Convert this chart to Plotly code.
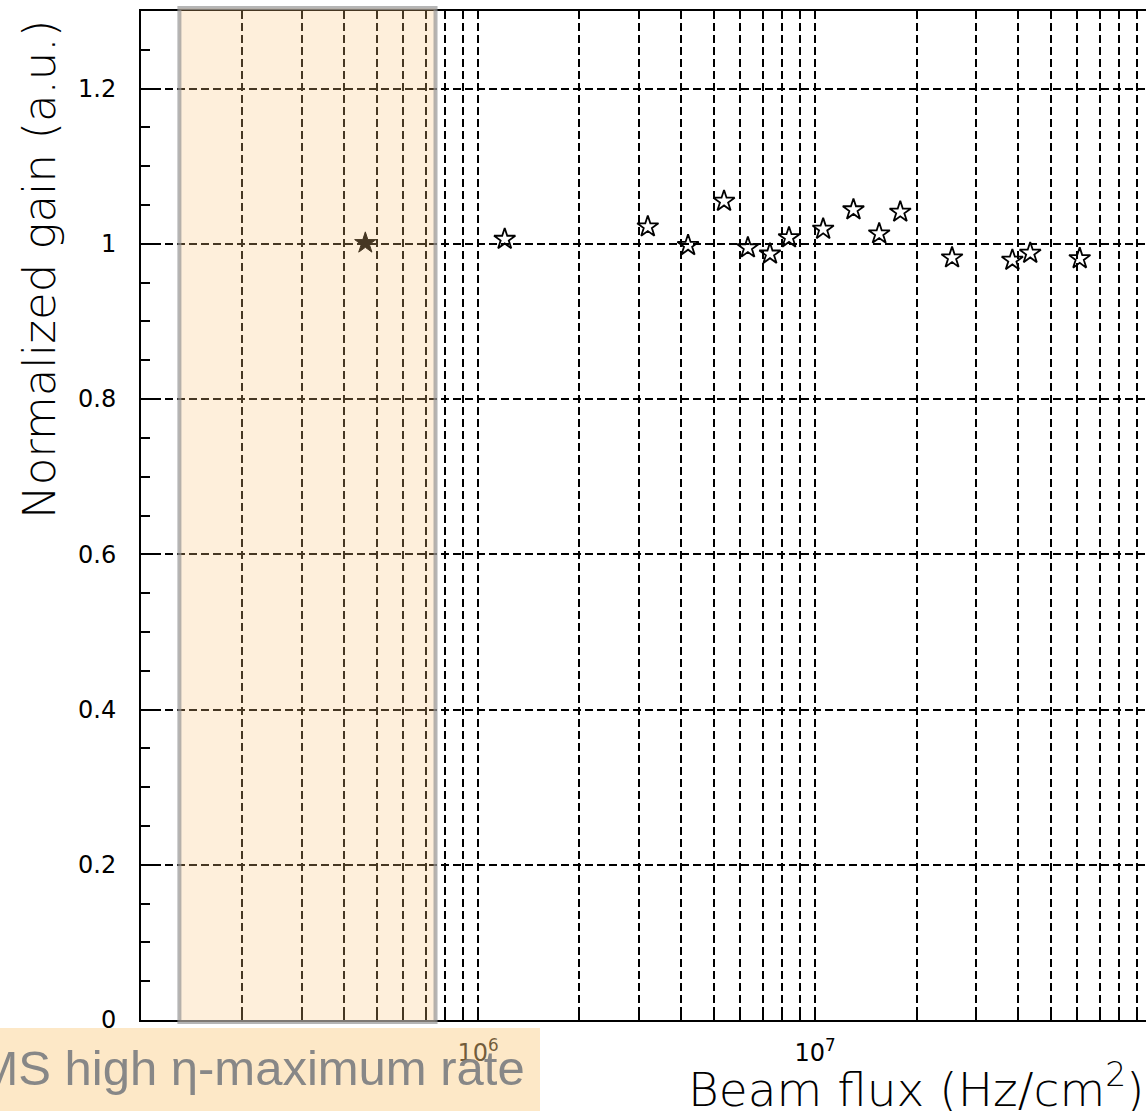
import math
import plotly.graph_objects as go

# ---- data ----
flux = [4.63e5, 1.20e6, 3.19e6, 4.20e6, 5.37e6, 6.32e6, 7.35e6, 8.37e6,
        1.057e7, 1.30e7, 1.55e7, 1.79e7, 2.55e7, 3.85e7, 4.35e7, 6.10e7]
gain = [1.001, 1.006, 1.022, 0.998, 1.055, 0.995, 0.987, 1.008,
        1.019, 1.044, 1.013, 1.041, 0.982, 0.979, 0.988, 0.981]

x_log_range = [5.0, 7.982]
y_range = [0.0, 1.3]
y_major = [0, 0.2, 0.4, 0.6, 0.8, 1.0, 1.2]
y_major_text = ["0", "0.2", "0.4", "0.6", "0.8", "1", "1.2"]
decades = [1e5, 1e6, 1e7]
decade_text = {1e6: "10<sup>6</sup>", 1e7: "10<sup>7</sup>"}
shade_flux = [1.30e5, 7.48e5]   # highlighted (CMS high-eta max rate) region
note_text = "CMS high η-maximum rate"

x_ticks = [d * k for d in decades for k in range(1, 10)]
x_ticktext = [decade_text.get(v, "") for v in x_ticks]

W, H = 1146, 1111
L, R, T, B = 141, 0, 11, 91
pw, ph = W - L - R, H - T - B

def px2paper_x(px):
    return (px - L) / pw

def px2paper_y(py):
    return (H - B - py) / ph

def flux2paper(v):
    return (math.log10(v) - x_log_range[0]) / (x_log_range[1] - x_log_range[0])

ROOTFONT = "DejaVu Sans"

fig = go.Figure()
fig.add_trace(go.Scatter(
    x=flux[1:], y=gain[1:], mode="markers",
    marker=dict(symbol="star-open", size=16, color="black",
                line=dict(color="black", width=1.8)),
    showlegend=False))
fig.add_trace(go.Scatter(
    x=flux[:1], y=gain[:1], mode="markers",
    marker=dict(symbol="star", size=16, color="black",
                line=dict(color="black", width=1)),
    showlegend=False))

# shaded region (semi-transparent, above the grid)
fig.add_shape(type="rect", xref="paper", yref="paper",
              x0=flux2paper(shade_flux[0]), x1=flux2paper(shade_flux[1]),
              y0=-0.002, y1=1.003,
              fillcolor="rgba(250,196,125,0.28)",
              line=dict(color="rgba(150,150,150,0.7)", width=4),
              layer="above")

# note box at bottom left
fig.add_shape(type="rect", xref="paper", yref="paper",
              x0=px2paper_x(-20), x1=px2paper_x(540),
              y0=px2paper_y(1130), y1=px2paper_y(1028),
              fillcolor="rgba(250,205,130,0.45)", line=dict(width=0),
              layer="above")
fig.add_annotation(text=note_text, xref="paper", yref="paper",
                   x=px2paper_x(527), y=px2paper_y(1068),
                   xanchor="right", yanchor="middle", showarrow=False,
                   font=dict(family="Liberation Sans", size=49, color="#878787"))

# axis titles (ROOT style, end-aligned)
fig.add_annotation(text="Normalized gain (a.u.)", xref="paper", yref="paper",
                   x=px2paper_x(40), y=px2paper_y(270), textangle=-90,
                   xanchor="center", yanchor="middle", showarrow=False,
                   font=dict(family=ROOTFONT, size=45, color="black", weight=200))
fig.add_annotation(text="Beam flux (Hz/cm<sup>2</sup>)", xref="paper", yref="paper",
                   x=px2paper_x(1146), y=px2paper_y(1086),
                   xanchor="right", yanchor="middle", showarrow=False,
                   font=dict(family=ROOTFONT, size=47, color="black", weight=200))

fig.update_xaxes(type="log", range=x_log_range,
                 tickmode="array", tickvals=x_ticks, ticktext=x_ticktext,
                 ticks="inside", ticklen=10, tickwidth=1.5, tickcolor="black",
                 showgrid=True, gridcolor="black", gridwidth=1.5, griddash="8px,4px",
                 showline=True, linecolor="black", linewidth=2, mirror=True,
                 tickfont=dict(family=ROOTFONT, size=24, color="black"),
                 ticklabelstandoff=10, zeroline=False)
fig.update_yaxes(range=y_range, tickmode="array", tickvals=y_major, ticktext=y_major_text,
                 ticks="inside", ticklen=16, tickwidth=2, tickcolor="black",
                 minor=dict(dtick=0.05, ticks="inside", ticklen=9, tickwidth=2,
                            tickcolor="black", showgrid=False),
                 showgrid=True, gridcolor="black", gridwidth=1.5, griddash="8px,4px",
                 showline=True, linecolor="black", linewidth=2, mirror=False,
                 tickfont=dict(family=ROOTFONT, size=24, color="black"),
                 ticklabelstandoff=18, zeroline=False)

fig.update_layout(width=W, height=H, margin=dict(l=L, r=R, t=T, b=B, pad=0),
                  paper_bgcolor="white", plot_bgcolor="white", showlegend=False)

fig.write_html("out.html")
